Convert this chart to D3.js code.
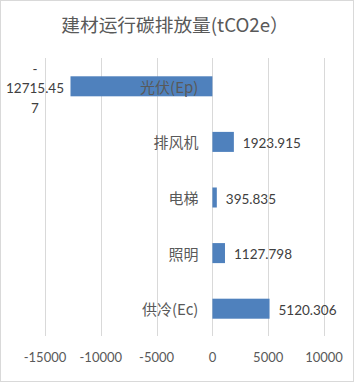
<!DOCTYPE html>
<html><head><meta charset="utf-8">
<script src="https://cdn.jsdelivr.net/npm/d3@7"></script>
<style>
html,body{margin:0;padding:0;background:#fff;}
svg{display:block;}
</style></head>
<body>
<script>
const categories = ["光伏(Ep)", "排风机", "电梯", "照明", "供冷(Ec)"];
const values = [-12715.457, 1923.915, 395.835, 1127.798, 5120.306];
const labels = ["-12715.457", "1923.915", "395.835", "1127.798", "5120.306"];
const ticks = [-15000, -10000, -5000, 0, 5000, 10000];
const title = "建材运行碳排放量(tCO2e）";

const W = 354, H = 382;
const svg = d3.select("body").append("svg").attr("width", W).attr("height", H);
svg.append("rect").attr("x", 0.5).attr("y", 0.5).attr("width", W - 1).attr("height", H - 1)
  .attr("fill", "#fff").attr("stroke", "#d9d9d9");

const x = d3.scaleLinear().domain([-15000, 10000]).range([45, 324]);
const y = d3.scaleBand().domain(categories).range([58.5, 336.5]).paddingInner(0.64).paddingOuter(0.32);

const numFont = "Lato, 'Noto Sans CJK SC', sans-serif";
const cjkFont = "'Noto Sans CJK SC', Lato, sans-serif";

// gridlines
svg.append("g").selectAll("line").data(ticks).join("line")
  .attr("x1", d => Math.round(x(d)) + 0.5).attr("x2", d => Math.round(x(d)) + 0.5)
  .attr("y1", 58).attr("y2", 336)
  .attr("stroke", "#d9d9d9").attr("stroke-width", 1);

// tick labels
svg.append("g").selectAll("text").data(ticks).join("text")
  .attr("x", d => x(d)).attr("y", 357)
  .attr("text-anchor", "middle").attr("dominant-baseline", "central")
  .attr("font-family", numFont).attr("font-size", 13).attr("fill", "#595959")
  .text(d => d);

// bars
svg.append("g").selectAll("rect").data(values).join("rect")
  .attr("x", d => x(Math.min(0, d))).attr("width", d => Math.abs(x(d) - x(0)))
  .attr("y", (d, i) => y(categories[i])).attr("height", y.bandwidth())
  .attr("fill", "#4f81bd");

// category labels
svg.append("g").selectAll("text").data(categories).join("text")
  .attr("x", x(0) - 14).attr("y", d => y(d) + y.bandwidth() / 2)
  .attr("text-anchor", "end").attr("dominant-baseline", "central")
  .attr("font-family", cjkFont).attr("font-size", 15).attr("fill", "#595959")
  .text(d => d);

// data labels
const dl = svg.append("g");
values.forEach((v, i) => {
  const cy = y(categories[i]) + y.bandwidth() / 2;
  if (v >= 0) {
    dl.append("text").attr("x", x(v) + 9).attr("y", cy + 1)
      .attr("dominant-baseline", "central")
      .attr("font-family", numFont).attr("font-size", 13.5).attr("fill", "#404040")
      .text(labels[i]);
  } else {
    const s = labels[i];
    const parts = [s.slice(0, 1), s.slice(1, 9), s.slice(9)];
    parts.forEach((p, k) => {
      dl.append("text").attr("x", 35).attr("y", cy + 2 + (k - 1) * 19.3)
        .attr("text-anchor", "middle").attr("dominant-baseline", "central")
        .attr("font-family", numFont).attr("font-size", 13.5).attr("fill", "#404040")
        .text(p);
    });
  }
});

// title
svg.append("text").attr("x", 175).attr("y", 23)
  .attr("text-anchor", "middle").attr("dominant-baseline", "central")
  .attr("font-family", cjkFont).attr("font-size", 18.7).attr("fill", "#595959")
  .text(title);
</script>
</body></html>
